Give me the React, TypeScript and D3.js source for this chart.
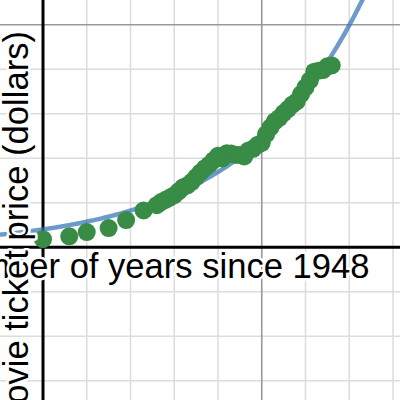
import React from "react";
import * as d3 from "d3";

// Years since 1948 and average movie ticket price (dollars)
const years: number[] = [0, 6, 10, 15, 19, 23, 26, 27, 28, 29, 30, 31, 32, 33, 34, 35, 36, 37, 38, 39, 40, 41, 42, 43, 44, 45, 46, 47, 48, 49, 50, 51, 52, 53, 54, 55, 56, 57, 58, 59, 60, 61, 62, 63, 64, 65, 66];
const prices: number[] = [0.36, 0.49, 0.68, 0.86, 1.22, 1.65, 1.89, 2.03, 2.13, 2.23, 2.34, 2.51, 2.69, 2.78, 2.94, 3.15, 3.36, 3.55, 3.71, 3.91, 4.11, 3.99, 4.22, 4.21, 4.15, 4.14, 4.08, 4.35, 4.42, 4.59, 4.69, 5.08, 5.39, 5.66, 5.81, 6.03, 6.21, 6.41, 6.55, 6.88, 7.18, 7.5, 7.89, 7.93, 7.96, 8.13, 8.17];

// exponential model y = a * b^x
const fitA = 0.8;
const fitB = 1.0367;

const xMinorTicks: number[] = [-10, 10, 20, 30, 40, 60, 70, 80];
const xMajorTicks: number[] = [50];
const yMinorTicks: number[] = [-6, -4, -2, 2, 4, 6, 8];
const yMajorTicks: number[] = [10];

const xLabel = "Number of years since 1948";
const yLabel = "Movie ticket price (dollars)";

const W = 400;
const H = 400;

export default function App() {
  const x0 = 43.0;
  const xs = 4.375;
  const y0 = 247.2;
  const ys = 22.25;
  const x = d3.scaleLinear().domain([-x0 / xs, (W - x0) / xs]).range([0, W]);
  const y = d3.scaleLinear().domain([y0 / ys, (y0 - H) / ys]).range([0, H]);

  const [tMin, tMax] = x.domain();
  const curvePts = d3.range(tMin, tMax + 0.01, 0.25).map((t) => [t, fitA * Math.pow(fitB, t)] as [number, number]);
  const line = d3
    .line<[number, number]>()
    .x((d) => x(d[0]))
    .y((d) => y(d[1]));

  const font = "'Liberation Sans', Arial, Helvetica, sans-serif";
  const fs = 34.6;

  return (
    <svg
      width={W}
      height={H}
      style={{ position: "fixed", left: 0, top: 0, background: "#fff" }}
    >
      <defs>
        <clipPath id="clip">
          <rect x={0} y={0} width={W} height={H} />
        </clipPath>
      </defs>
      <rect x={0} y={0} width={W} height={H} fill="#fff" />
      <g clipPath="url(#clip)">
        {xMinorTicks.map((t) => (
          <line key={"xv" + t} x1={x(t)} x2={x(t)} y1={0} y2={H} stroke="#dcdcdc" strokeWidth={1.5} />
        ))}
        {yMinorTicks.map((t) => (
          <line key={"yh" + t} x1={0} x2={W} y1={y(t)} y2={y(t)} stroke="#dcdcdc" strokeWidth={1.5} />
        ))}
        {xMajorTicks.map((t) => (
          <line key={"xM" + t} x1={x(t)} x2={x(t)} y1={0} y2={H} stroke="#999" strokeWidth={1.6} />
        ))}
        {yMajorTicks.map((t) => (
          <line key={"yM" + t} x1={0} x2={W} y1={y(t)} y2={y(t)} stroke="#999" strokeWidth={1.6} />
        ))}
        <line x1={x(0)} x2={x(0)} y1={0} y2={H} stroke="#000" strokeWidth={3} />
        <line x1={0} x2={W} y1={y(0)} y2={y(0)} stroke="#000" strokeWidth={3} />

        <path d={line(curvePts) || ""} fill="none" stroke="#2d70b3" strokeOpacity={0.7} strokeWidth={4.5} />

        {years.map((t, i) => (
          <circle key={"p" + i} cx={x(t)} cy={y(prices[i])} r={9} fill="#388c46" />
        ))}

        <text
          x={369.5}
          y={277.5}
          textAnchor="end"
          fontFamily={font}
          fontSize={fs}
          fill="#000"
          stroke="#fff"
          strokeWidth={5}
          strokeLinejoin="round"
          style={{ paintOrder: "stroke" }}
        >
          {xLabel}
        </text>
        <text
          transform={`translate(28, 31) rotate(-90)`}
          textAnchor="end"
          fontFamily={font}
          fontSize={fs}
          fill="#000"
          stroke="#fff"
          strokeWidth={5}
          strokeLinejoin="round"
          style={{ paintOrder: "stroke" }}
        >
          {yLabel}
        </text>
      </g>
    </svg>
  );
}
